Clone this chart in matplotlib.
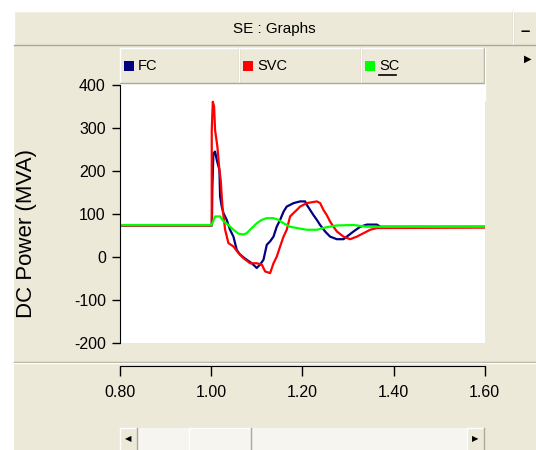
import matplotlib.pyplot as plt
from matplotlib.patches import Rectangle
from matplotlib.lines import Line2D

plt.rcParams['font.family'] = ['Liberation Sans', 'DejaVu Sans']

# canvas size in pixels and window colours
W, H = 536, 450
BEIGE = '#ECE9D8'
SHADOW = '#ACA899'

series_names = ['FC', 'SVC', 'SC']
series_colors = ['#000080', '#FF0000', '#00FF00']

# FC (fixed capacitor)
fc_t = [0.80, 1.002, 1.003, 1.0053, 1.009, 1.0126, 1.0185, 1.020, 1.0236, 1.0272,
        1.0345, 1.0418, 1.0492, 1.0565, 1.0638, 1.0784, 1.0894, 1.1003, 1.1076, 1.115,
        1.1223, 1.1296, 1.137, 1.144, 1.1515, 1.159, 1.166, 1.181, 1.1954, 1.2063,
        1.21, 1.2173, 1.2246, 1.232, 1.2392, 1.25, 1.261, 1.2758, 1.2904, 1.2977,
        1.3123, 1.327, 1.3415, 1.3635, 1.371, 1.60]
fc_v = [73, 73, 160, 241, 245, 226, 202, 140, 117, 102,
        86, 63, 47, 16, 5, -7, -15, -26, -18, -7,
        28, 36, 47, 70, 86, 105, 117, 125, 129, 129,
        121, 109, 97, 86, 74, 59, 47, 41, 41, 47,
        59, 70, 75, 75, 70, 70]

# SVC
svc_t = [0.80, 1.0016, 1.0017, 1.004, 1.0068, 1.009, 1.0141, 1.0185, 1.0214, 1.0236,
         1.0258, 1.031, 1.0382, 1.0492, 1.06, 1.071, 1.0857, 1.1003, 1.1113, 1.1186,
         1.1296, 1.137, 1.144, 1.1515, 1.159, 1.166, 1.1734, 1.181, 1.188, 1.1954,
         1.21, 1.221, 1.232, 1.2392, 1.2465, 1.2538, 1.261, 1.2685, 1.2758, 1.2904,
         1.305, 1.3196, 1.3342, 1.349, 1.3635, 1.60]
svc_v = [73, 73, 295, 361, 350, 295, 256, 202, 178, 140,
         109, 63, 32, 24, 9, -3, -15, -15, -18, -34,
         -38, -15, 0, 24, 47, 63, 94, 102, 109, 117,
         125, 127, 129, 125, 109, 97, 82, 70, 59, 47,
         41, 47, 55, 63, 67, 68]

# SC
sc_t = [0.80, 1.0016, 1.009, 1.020, 1.0272, 1.0382, 1.0492, 1.06, 1.071, 1.0784,
        1.0894, 1.1003, 1.1113, 1.1223, 1.137, 1.148, 1.159, 1.1734, 1.188, 1.21,
        1.232, 1.2538, 1.2758, 1.3123, 1.3415, 1.60]
sc_v = [74, 74, 94, 94, 83, 74, 63, 54, 52, 55,
        67, 78, 86, 90, 90, 86, 78, 70, 67, 63,
        63, 69, 73, 74, 70, 70]

x_ticks = [0.80, 1.00, 1.20, 1.40, 1.60]
y_ticks = [-200, -100, 0, 100, 200, 300, 400]


def fx(x):
    return x / W


def fy(y):
    return 1 - y / H


def box(x0, y0, x1, y1, face=BEIGE):
    # raised windows-style panel
    fig.add_artist(Rectangle((fx(x0), fy(y1)), fx(x1) - fx(x0), fy(y0) - fy(y1),
                             transform=fig.transFigure, facecolor=face,
                             edgecolor='none', zorder=0))
    fig.add_artist(Line2D([fx(x0), fx(x0), fx(x1)], [fy(y1), fy(y0), fy(y0)],
                          transform=fig.transFigure, color='white', lw=1))
    fig.add_artist(Line2D([fx(x0), fx(x1), fx(x1)], [fy(y1), fy(y1), fy(y0)],
                          transform=fig.transFigure, color=SHADOW, lw=1))


fig = plt.figure(figsize=(W / 100, H / 100), dpi=100)
fig.patch.set_facecolor('white')

# window background
fig.add_artist(Rectangle((fx(13.7), 0), 1 - fx(13.7), fy(11), transform=fig.transFigure,
                         facecolor=BEIGE, edgecolor='none', zorder=0))

# title bar and minimise button
box(13.7, 11, 513, 45)
box(513, 11, 537, 45)
fig.text(fx(274), fy(29), 'SE : Graphs', fontsize=11, ha='center', va='center')
fig.text(fx(525), fy(31), '\u2013', fontsize=12, fontweight='bold', ha='center', va='center')

# legend tabs
tab_edges = [120, 239, 361, 484]
for i, (name, color) in enumerate(zip(series_names, series_colors)):
    x0, x1 = tab_edges[i], tab_edges[i + 1]
    box(x0, 48, x1, 83)
    fig.add_artist(Rectangle((fx(x0 + 4), fy(71)), fx(10), 10 / H, transform=fig.transFigure,
                             facecolor=color, edgecolor='none'))
    fig.text(fx(x0 + 18), fy(66), name, fontsize=10.5, ha='left', va='center')
    if name == 'SC':
        fig.add_artist(Line2D([fx(x0 + 18), fx(x0 + 35)], [fy(75), fy(75)],
                              transform=fig.transFigure, color='black', lw=1.2))
fig.add_artist(Line2D([fx(485), fx(485)], [fy(48), fy(100)], transform=fig.transFigure,
                      color='white', lw=1))
fig.text(fx(528), fy(59), '\u25b6', fontsize=7, ha='center', va='center')

# separator above the x axis
fig.add_artist(Line2D([fx(13.7), 1], [fy(362), fy(362)], transform=fig.transFigure,
                      color=SHADOW, lw=1))
fig.add_artist(Line2D([fx(13.7), 1], [fy(363.2), fy(363.2)], transform=fig.transFigure,
                      color='white', lw=1))

# scroll bar
fig.add_artist(Rectangle((fx(137), 0), fx(467) - fx(137), fy(428), transform=fig.transFigure,
                         facecolor='#F6F5F0', edgecolor='none'))
box(189, 428, 251, 452)
box(120, 428, 137, 452)
box(467, 428, 484, 452)
fig.text(fx(128.5), fy(440), '\u25c0', fontsize=6, ha='center', va='center')
fig.text(fx(475.5), fy(440), '\u25b6', fontsize=6, ha='center', va='center')

# plot area
ax_left, ax_right = 119.7, 484.8
ax = fig.add_axes([fx(ax_left), fy(342.7), fx(ax_right - ax_left), (342.7 - 83) / H])
ax.set_facecolor('white')
ax.plot(fc_t, fc_v, color=series_colors[0], lw=1.6)
ax.plot(svc_t, svc_v, color=series_colors[1], lw=1.6)
ax.plot(sc_t, sc_v, color=series_colors[2], lw=1.6)
ax.set_xlim(0.80, 1.60)
ax.set_ylim(-200, 404.7)
ax.set_yticks(y_ticks)
ax.set_yticklabels([str(v) for v in y_ticks])
ax.spines['left'].set_bounds(-200, 400)
for s in ['top', 'right', 'bottom']:
    ax.spines[s].set_visible(False)
ax.set_xticks([])
ax.tick_params(axis='y', direction='out', length=6, width=1, pad=4, labelsize=11.5)

fig.text(fx(27), fy(234), 'DC Power (MVA)', fontsize=16, rotation=90, ha='center', va='center')

# detached x axis below the separator
ax_x = fig.add_axes([fx(ax_left), fy(366), fx(ax_right - ax_left), 0.001])
ax_x.patch.set_visible(False)
for s in ['top', 'left', 'right']:
    ax_x.spines[s].set_visible(False)
ax_x.set_xlim(0.80, 1.60)
ax_x.set_xticks(x_ticks)
ax_x.set_xticklabels(['%.2f' % v for v in x_ticks])
ax_x.set_yticks([])
ax_x.tick_params(axis='x', direction='out', length=7, width=1, pad=7, labelsize=11.5)

fig.savefig('out.png', dpi=100)
